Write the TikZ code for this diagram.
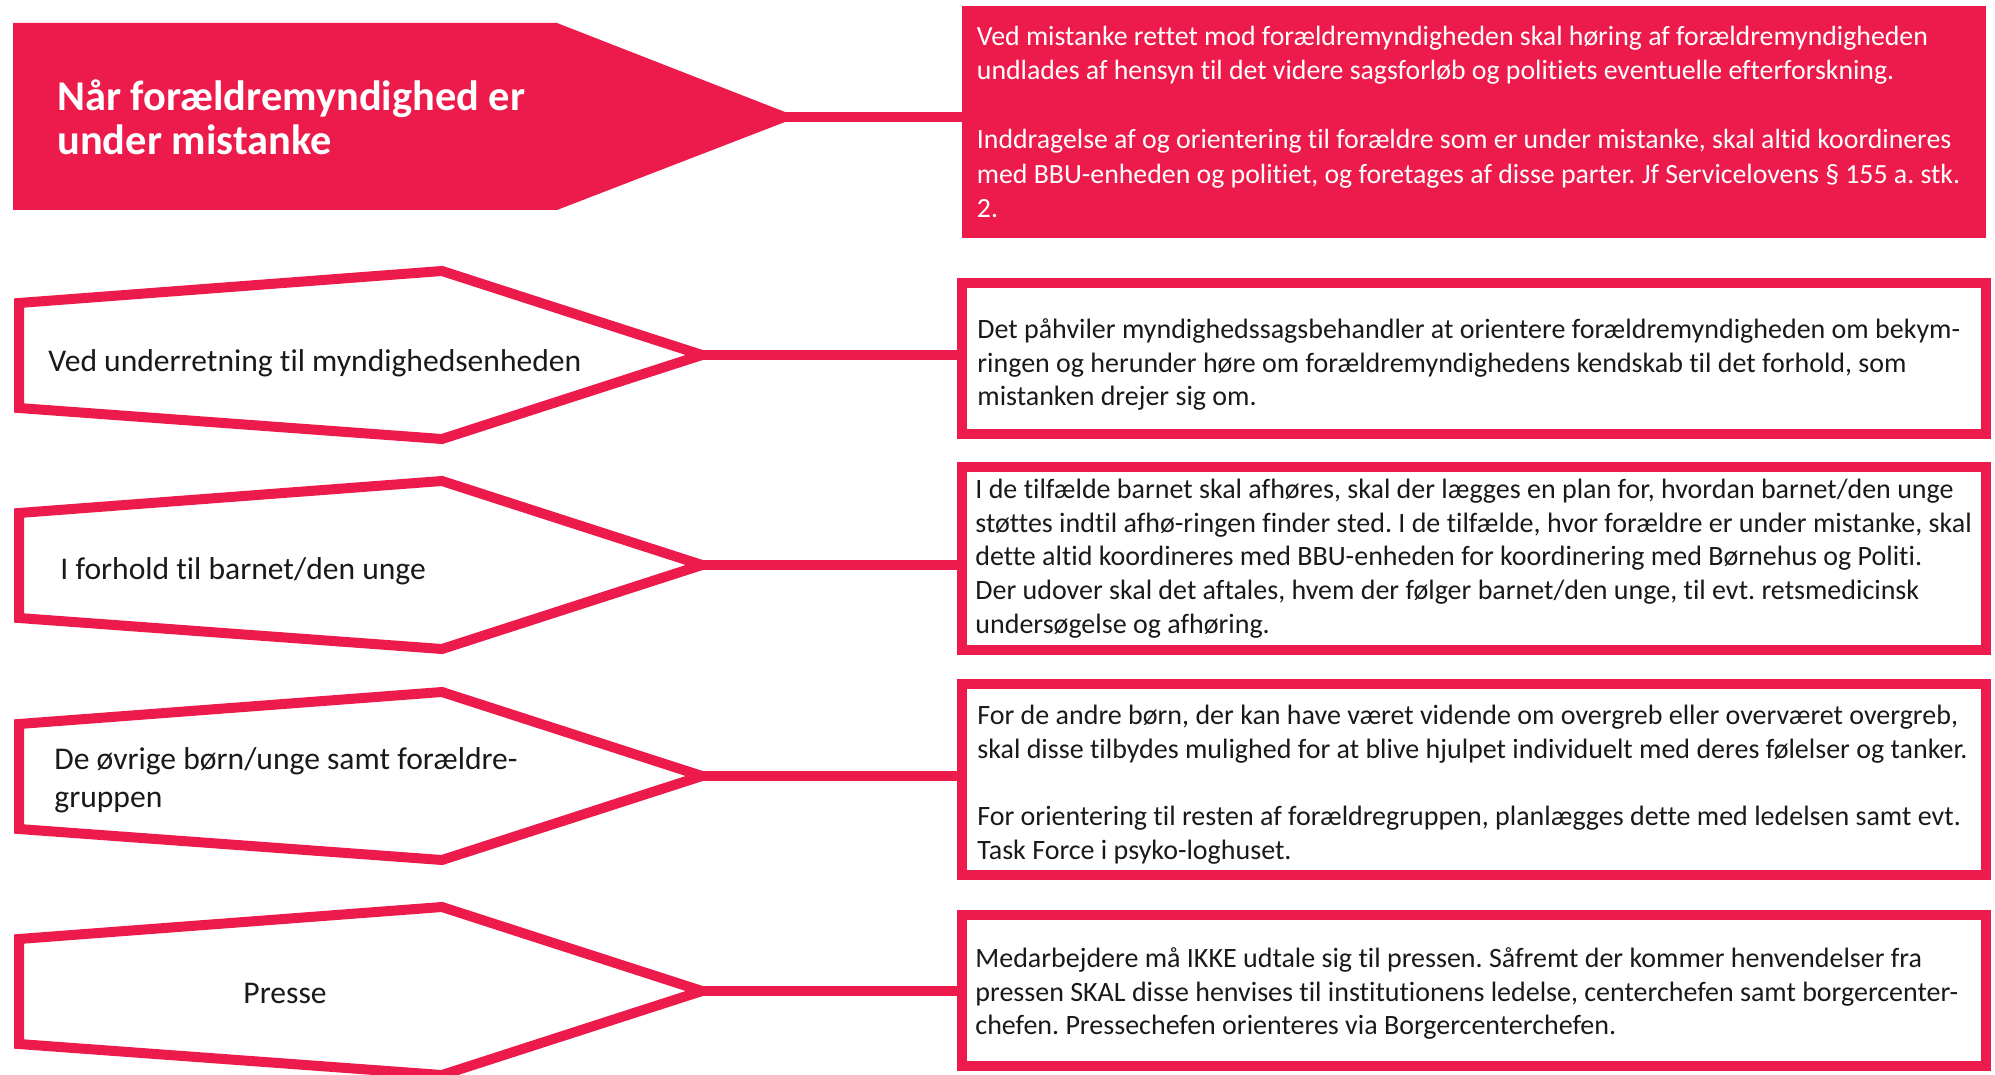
\documentclass[tikz,border=0pt]{standalone}
\usepackage{fontspec}
\setmainfont{Carlito}[Ligatures = NoCommon]
\frenchspacing
\usetikzlibrary{positioning}
\definecolor{alarm}{RGB}{237,27,75}
\tikzset{pil/.style = {draw = alarm, line width = 5pt}}
\tikzset{led/.style = {draw = alarm, line width = 5pt}}
\tikzset{kasse/.style = {draw = alarm, line width = 5pt, minimum width = 512pt, inner sep = 0}}
\tikzset{tekst/.style = {inner sep = 0, align = left, text = black!90,
                         font = \fontsize{14}{16.8}\selectfont}}
\tikzset{emne/.style = {anchor = west, inner sep = 0, align = left, text = black!90,
                        font = \fontsize{15.8}{19}\selectfont}}

\begin{document}
\begin{tikzpicture}[x = 0.5pt, y = -0.5pt]
  \useasboundingbox (0, 0) rectangle (1995, 1075);
  \fill [alarm] (13, 23) -- (557, 23) -- (785, 112) -- (785, 122) -- (557, 210) -- (13, 210) -- cycle;
  \coordinate (spids1) at (775, 117);
  \node [emne, text = white, font = \bfseries\fontsize{21.2}{22}\selectfont] (titel) at (57, 117) {Når forældremyndighed er\\under mistanke};
  \node [kasse, fill = alarm, draw = none, outer sep = 0, minimum height = 116pt] (boks1) at (1473.5, 122) {};
  \node [tekst, text = white, font = \fontsize{13.9}{17.25}\selectfont, right = 7.5pt of boks1.west] (tekst1)
        {Ved mistanke rettet mod forældremyndigheden skal høring af forældremyndigheden\\
         undlades af hensyn til det videre sagsforløb og politiets eventuelle efterforskning.\\[17.25pt]
         Inddragelse af og orientering til forældre som er under mistanke, skal altid koordineres\\
         med BBU-enheden og politiet, og foretages af disse parter. Jf Servicelovens § 155 a. stk.\\
         2.};
  \draw [led] (spids1) -- (spids1 -| boks1.west);

  \draw [pil] (19, 303) -- (442, 271) -- (702, 355) -- (442, 439) -- (19, 408) -- cycle;
  \coordinate (spids2) at (702, 355);
  \node [emne] (emne2) at (48, 363) {Ved underretning til myndighedsenheden};
  \node [kasse, minimum height = 75.5pt] (boks2) at (1474, 358.5) {};
  \node [tekst, right = 10pt of boks2.west, yshift = -3pt] (tekst2)
        {Det påhviler myndighedssagsbehandler at orientere forældremyndigheden om bekym-\\
         ringen og herunder høre om forældremyndighedens kendskab til det forhold, som\\
         mistanken drejer sig om.};
  \draw [led] (spids2) -- (spids2 -| boks2.west);

  \draw [pil] (19, 513) -- (442, 481) -- (702, 565) -- (442, 649) -- (19, 618) -- cycle;
  \coordinate (spids3) at (702, 565);
  \node [emne] (emne3) at (60, 571) {I forhold til barnet/den unge};
  \node [kasse, minimum height = 91.5pt] (boks3) at (1474, 558.5) {};
  \node [tekst, right = 9pt of boks3.west] (tekst3)
        {I de tilfælde barnet skal afhøres, skal der lægges en plan for, hvordan barnet/den unge\\
         støttes indtil afhø-ringen finder sted. I de tilfælde, hvor forældre er under mistanke, skal\\
         dette altid koordineres med BBU-enheden for koordinering med Børnehus og Politi.\\
         Der udover skal det aftales, hvem der følger barnet/den unge, til evt. retsmedicinsk\\
         undersøgelse og afhøring.};
  \draw [led] (spids3) -- (spids3 -| boks3.west);

  \draw [pil] (19, 724) -- (442, 692) -- (702, 776) -- (442, 860) -- (19, 829) -- cycle;
  \coordinate (spids4) at (702, 776);
  \node [emne] (emne4) at (54, 780) {De øvrige børn/unge samt forældre-\\gruppen};
  \node [kasse, minimum height = 95.5pt] (boks4) at (1474, 779.5) {};
  \node [tekst, right = 10pt of boks4.west, yshift = -2.5pt] (tekst4)
        {For de andre børn, der kan have været vidende om overgreb eller overværet overgreb,\\
         skal disse tilbydes mulighed for at blive hjulpet individuelt med deres følelser og tanker.\\[16.8pt]
         For orientering til resten af forældregruppen, planlægges dette med ledelsen samt evt.\\
         Task Force i psyko-loghuset.};
  \draw [led] (spids4) -- (spids4 -| boks4.west);

  \draw [pil] (19, 939) -- (442, 907) -- (702, 991) -- (442, 1075) -- (19, 1044) -- cycle;
  \coordinate (spids5) at (702, 991);
  \node [emne, anchor = center] (emne5) at (285, 993) {Presse};
  \node [kasse, minimum height = 75.5pt] (boks5) at (1474, 990.5) {};
  \node [tekst, right = 9pt of boks5.west, yshift = -1.5pt] (tekst5)
        {Medarbejdere må IKKE udtale sig til pressen. Såfremt der kommer henvendelser fra\\
         pressen SKAL disse henvises til institutionens ledelse, centerchefen samt borgercenter-\\
         chefen. Pressechefen orienteres via Borgercenterchefen.};
  \draw [led] (spids5) -- (spids5 -| boks5.west);
\end{tikzpicture}
\end{document}
